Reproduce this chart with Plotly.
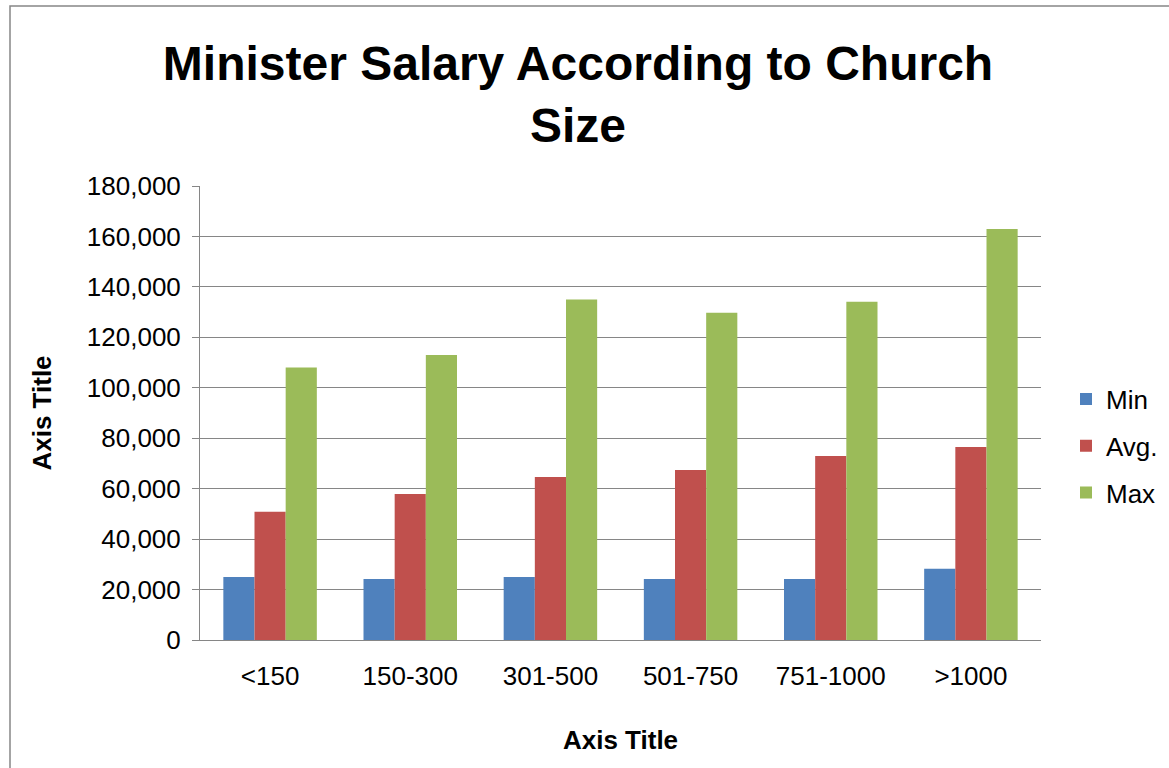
import plotly.graph_objects as go

categories = ["<150", "150-300", "301-500", "501-750", "751-1000", ">1000"]
min_vals = [25000, 24200, 25000, 24200, 24200, 28200]
avg_vals = [50800, 57900, 64600, 67400, 73000, 76500]
max_vals = [108000, 113000, 135000, 129700, 134100, 163000]
series_names = ["Min", "Avg.", "Max"]
colors = ["#4F81BD", "#C0504D", "#9BBB59"]

FONT = "Arial, Liberation Sans, sans-serif"

fig = go.Figure()
for name, vals, col in zip(series_names, [min_vals, avg_vals, max_vals], colors):
    fig.add_trace(go.Bar(name=name, x=categories, y=vals, legendgroup=name,
                         marker=dict(color=col, line=dict(width=0))))

W, H = 1169, 768
L, R, T, B = 200, 128, 186, 128
pw = W - L - R
ph = H - T - B

fig.update_layout(
    width=W, height=H,
    margin=dict(l=L, r=R, t=T, b=B, autoexpand=False),
    paper_bgcolor="white", plot_bgcolor="white",
    barmode="group", bargap=0.333, bargroupgap=0,
    font=dict(family=FONT, size=26, color="black"),
    title=dict(
        text="<b>Minister Salary According to Church<br>Size</b>",
        font=dict(family=FONT, size=48, color="black"),
        x=578 / W, xanchor="center", xref="container",
        y=1 - 80 / H, yanchor="top", yref="container",
    ),
    legend=dict(
        x=(1066 - L) / pw, xanchor="left", y=(640 - 446) / ph, yanchor="middle",
        font=dict(family=FONT, size=26, color="black"),
        itemwidth=30, tracegroupgap=10, traceorder="grouped",
        bgcolor="rgba(0,0,0,0)",
    ),
    showlegend=True,
)

fig.update_yaxes(
    range=[0, 180000], dtick=20000, tickformat=",",
    showgrid=True, gridcolor="#868686", gridwidth=1,
    showline=True, linecolor="#868686", linewidth=1,
    ticks="outside", ticklen=7, tickcolor="#868686",
    ticklabelstandoff=6,
    tickfont=dict(family=FONT, size=26, color="black"),
    zeroline=False,
    title=dict(text="<b>Axis Title</b>", font=dict(family=FONT, size=26, color="black"), standoff=27),
)
fig.update_xaxes(
    showline=True, linecolor="#868686", linewidth=1,
    ticks="", tickfont=dict(family=FONT, size=26, color="black"),
    ticklabelstandoff=13,
    title=dict(text="<b>Axis Title</b>", font=dict(family=FONT, size=26, color="black"), standoff=40),
)

# outer chart border
fig.add_shape(
    type="rect", xref="paper", yref="paper",
    x0=(10 - L) / pw, x1=(W + 20 - L) / pw,
    y0=-(B + 20) / ph, y1=(H - B - 6) / ph,
    line=dict(color="#868686", width=1.5), fillcolor="rgba(0,0,0,0)", layer="below",
)

fig.write_html("out.html", config={"displayModeBar": False},
               post_script="document.body.style.margin='0px';")
